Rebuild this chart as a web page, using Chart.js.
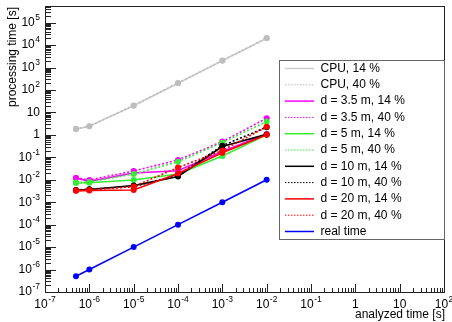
<!DOCTYPE html>
<html>
<head>
<meta charset="utf-8">
<script src="https://cdn.jsdelivr.net/npm/chart.js@4.4.1/dist/chart.umd.min.js"></script>
<style>
  html, body { margin: 0; padding: 0; background: #fff; }
  #wrap { width: 452px; height: 322px; }
</style>
</head>
<body>
<div id="wrap"><canvas id="myChart" width="452" height="322"></canvas></div>
<script>
// analyzed time [s]
const analyzedTime = [5e-7, 1e-6, 1e-5, 1e-4, 1e-3, 1e-2];

// processing time [s] per series
const cpu14 = [1.8, 2.4, 20, 200, 2000, 20000];
const cpu40 = [1.85, 2.45, 20.5, 205, 2050, 20500];
const d35_14 = [0.012, 0.0085, 0.02, 0.025, 0.18, 1.1];
const d35_40 = [0.012, 0.0098, 0.0245, 0.076, 0.5, 5.5];
const d5_14 = [0.0072, 0.0074, 0.0098, 0.018, 0.115, 1.0];
const d5_40 = [0.0075, 0.008, 0.018, 0.063, 0.45, 3.9];
const d10_14 = [0.0034, 0.0037, 0.0055, 0.014, 0.3, 1.05];
const d10_40 = [0.0035, 0.0038, 0.005, 0.016, 0.33, 2.2];
const d20_14 = [0.0032, 0.0033, 0.0035, 0.019, 0.16, 1.0];
const d20_40 = [0.0033, 0.0035, 0.005, 0.035, 0.2, 2.3];
const realTime = [5e-7, 1e-6, 1e-5, 1e-4, 1e-3, 1e-2];

const seriesLabels = ["CPU, 14 %", "CPU, 40 %", "d = 3.5 m, 14 %", "d = 3.5 m, 40 %",
  "d = 5 m, 14 %", "d = 5 m, 40 %", "d = 10 m, 14 %", "d = 10 m, 40 %",
  "d = 20 m, 14 %", "d = 20 m, 40 %", "real time"];
const seriesValues = [cpu14, cpu40, d35_14, d35_40, d5_14, d5_40, d10_14, d10_40, d20_14, d20_40, realTime];
const seriesColors = ["#cccccc", "#bdbdbd", "#ff00ff", "#ff00ff", "#33ee33", "#33ee33",
  "#000000", "#000000", "#ff0000", "#ff0000", "#0000ff"];
const seriesDotted = [false, true, false, true, false, true, false, true, false, true, false];

const xMin = 1e-7, xMax = 1e2;
const yMin = 1e-7, yMax = 5.5e5;

const FONT = '"Liberation Sans", Arial, sans-serif';

const datasets = seriesValues.map((vals, i) => ({
  label: seriesLabels[i],
  data: analyzedTime.map((x, j) => ({x: x, y: vals[j]})),
  borderColor: seriesColors[i],
  backgroundColor: seriesColors[i],
  pointBackgroundColor: seriesColors[i],
  pointBorderColor: seriesColors[i],
  pointRadius: 3,
  pointBorderWidth: 0,
  borderWidth: 1.6,
  borderDash: seriesDotted[i] ? [2, 2] : [],
  tension: 0,
  fill: false,
  order: seriesValues.length - i
}));

// draw "10^n" style label
function drawPow(ctx, exp, x, y, align) {
  let base, sup = "";
  if (exp === 0) base = "1";
  else if (exp === 1) base = "10";
  else { base = "10"; sup = String(exp); }
  ctx.font = "12px " + FONT;
  const wb = ctx.measureText(base).width;
  ctx.font = "8.5px " + FONT;
  const ws = sup ? ctx.measureText(sup).width + 0.5 : 0;
  const w = wb + ws;
  let x0 = align === "right" ? x - w : x - w / 2;
  ctx.textAlign = "left";
  ctx.textBaseline = "middle";
  ctx.font = "12px " + FONT;
  ctx.fillText(base, x0, y);
  if (sup) {
    ctx.font = "8.5px " + FONT;
    ctx.fillText(sup, x0 + wb + 0.5, y - 5);
  }
}

const framePlugin = {
  id: "rootFrame",
  afterDraw(chart) {
    const ctx = chart.ctx;
    const a = chart.chartArea;
    const xs = chart.scales.x, ys = chart.scales.y;
    ctx.save();
    ctx.strokeStyle = "#222";
    ctx.lineWidth = 1;
    ctx.strokeRect(Math.round(a.left) + 0.5, Math.round(a.top) + 0.5,
      Math.round(a.right - a.left), Math.round(a.bottom - a.top));

    // ticks
    ctx.beginPath();
    for (let e = -7; e <= 5; e++) {
      for (let m = 1; m <= 9; m++) {
        const v = m * Math.pow(10, e);
        if (v < yMin || v > yMax) continue;
        const py = Math.round(ys.getPixelForValue(v)) + 0.5;
        const len = m === 1 ? 11 : 6;
        ctx.moveTo(a.left, py);
        ctx.lineTo(a.left + len, py);
      }
    }
    for (let e = -7; e <= 2; e++) {
      for (let m = 1; m <= 9; m++) {
        const v = m * Math.pow(10, e);
        if (v < xMin || v > xMax) continue;
        const px = Math.round(xs.getPixelForValue(v)) + 0.5;
        const len = m === 1 ? 8 : 4;
        ctx.moveTo(px, a.bottom);
        ctx.lineTo(px, a.bottom - len);
      }
    }
    ctx.stroke();

    // tick labels
    ctx.fillStyle = "#000";
    for (let e = -7; e <= 5; e++) {
      drawPow(ctx, e, a.left - 5, ys.getPixelForValue(Math.pow(10, e)), "right");
    }
    for (let e = -7; e <= 2; e++) {
      drawPow(ctx, e, xs.getPixelForValue(Math.pow(10, e)), a.bottom + 13, "center");
    }

    // axis titles
    ctx.font = "12px " + FONT;
    ctx.textAlign = "right";
    ctx.textBaseline = "middle";
    ctx.fillText("analyzed time [s]", a.right + 1, a.bottom + 23);
    ctx.save();
    ctx.translate(13, a.top + 1);
    ctx.rotate(-Math.PI / 2);
    ctx.fillText("processing time [s]", 0, 0);
    ctx.restore();

    // legend
    const lx = 279, ly = 60, lw = a.right - 279, lh = 179;
    ctx.fillStyle = "#fff";
    ctx.fillRect(lx, ly, lw, lh);
    ctx.strokeStyle = "#666";
    ctx.strokeRect(lx + 0.5, ly + 0.5, lw, lh);
    ctx.font = "12px " + FONT;
    ctx.textAlign = "left";
    ctx.textBaseline = "middle";
    seriesLabels.forEach((lab, i) => {
      const y = ly + 8.5 + i * 16.3;
      ctx.strokeStyle = seriesColors[i];
      ctx.lineWidth = seriesDotted[i] ? 1 : 1.5;
      ctx.setLineDash(seriesDotted[i] ? [1.5, 1.5] : []);
      ctx.beginPath();
      ctx.moveTo(285, y);
      ctx.lineTo(314, y);
      ctx.stroke();
      ctx.setLineDash([]);
      ctx.fillStyle = "#000";
      ctx.fillText(lab, 320.5, y);
    });
    ctx.restore();
  }
};

const ctx = document.getElementById("myChart").getContext("2d");
new Chart(ctx, {
  type: "line",
  data: { datasets: datasets },
  options: {
    responsive: false,
    animation: false,
    layout: { padding: { left: 45, right: 8, top: 6, bottom: 30 } },
    plugins: { legend: { display: false }, tooltip: { enabled: false } },
    scales: {
      x: { type: "logarithmic", min: xMin, max: xMax, display: false },
      y: { type: "logarithmic", min: yMin, max: yMax, display: false }
    }
  },
  plugins: [framePlugin]
});
</script>
</body>
</html>
